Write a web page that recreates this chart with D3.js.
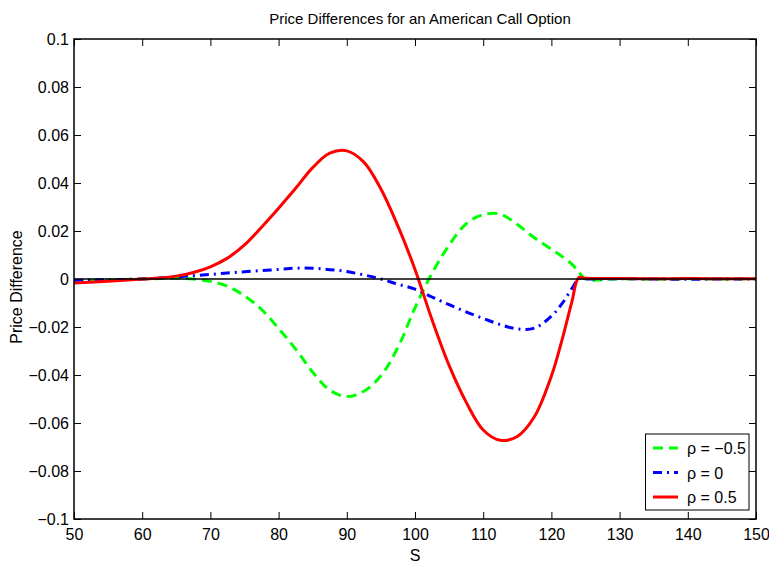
<!DOCTYPE html>
<html>
<head>
<meta charset="utf-8">
<script src="https://cdn.jsdelivr.net/npm/d3@7"></script>
<style>
  body { margin: 0; background: #fff; }
  text { font-family: "Liberation Sans Narrow", "Arial Narrow", "Liberation Sans", Arial, sans-serif; }
</style>
</head>
<body>
<div id="chart"></div>
<script>
// stock price grid
const sValues = [50, 55, 60, 62.5, 65, 67.5, 70, 72.5, 75, 77.5, 80, 82.5, 85, 87.5, 90, 92.5, 95, 97.5,
  100, 102.5, 105, 107.5, 110, 112.5, 115, 117.5, 120, 121.5, 123, 124, 125, 130, 135, 140, 145, 150];

// rho = -0.5
const rhoNeg = [-0.0008, -0.0004, 0, 0.0002, 0.0003, 0, -0.001, -0.003, -0.007, -0.0127, -0.0206, -0.0292,
  -0.0388, -0.0463, -0.049, -0.0468, -0.0403, -0.0285, -0.012, 0.0024, 0.0141, 0.023, 0.0268, 0.027,
  0.0227, 0.0172, 0.0124, 0.0095, 0.0062, 0.003, 0, 0.0001, -0.0001, 0.0001, 0, 0.0001];

// rho = 0
const rhoZero = [-0.0005, -0.0003, 0, 0.0004, 0.0009, 0.0014, 0.0019, 0.0025, 0.003, 0.0035, 0.004, 0.0045,
  0.0045, 0.0039, 0.0031, 0.0017, 0, -0.0022, -0.0042, -0.0075, -0.0107, -0.0137, -0.0164, -0.019,
  -0.0208, -0.0205, -0.0155, -0.0105, -0.004, 0, 0, 0.0001, 0, -0.0001, 0, 0];

// rho = 0.5
const rhoPos = [-0.0017, -0.0009, 0, 0.0004, 0.0012, 0.0027, 0.0051, 0.0087, 0.0142, 0.0216, 0.0295, 0.0378,
  0.0464, 0.0524, 0.0534, 0.0487, 0.0375, 0.022, 0.004, -0.017, -0.036, -0.0513, -0.0629, -0.0672,
  -0.0656, -0.0574, -0.0404, -0.026, -0.0095, 0.0005, 0.0003, 0.0002, 0.0001, 0.0002, 0.0001, 0.0001];

const xTicks = [50, 60, 70, 80, 90, 100, 110, 120, 130, 140, 150];
const yTicks = [-0.1, -0.08, -0.06, -0.04, -0.02, 0, 0.02, 0.04, 0.06, 0.08, 0.1];
const legendLabels = ["ρ = −0.5", "ρ = 0", "ρ = 0.5"];

const width = 769, height = 563;
const margin = { top: 39, right: 13, bottom: 44, left: 74 };

const svg = d3.select("#chart").append("svg")
  .attr("width", width)
  .attr("height", height);

const x = d3.scaleLinear().domain([50, 150]).range([margin.left, width - margin.right]);
const y = d3.scaleLinear().domain([-0.1, 0.1]).range([height - margin.bottom, margin.top]);

const fmt = d => d === 0 ? "0" : d3.format("~g")(d).replace("-", "−");

// axes with inward ticks
const axisFont = g => g.selectAll("text").style("font-size", "16px").attr("fill", "#000").attr("font-family", null);
svg.append("g")
  .attr("transform", `translate(0,${y(-0.1)})`)
  .call(d3.axisBottom(x).tickValues(xTicks).tickSizeInner(-7).tickSizeOuter(0).tickPadding(10))
  .call(g => g.select(".domain").remove())
  .call(axisFont);
svg.append("g")
  .attr("transform", `translate(0,${y(0.1)})`)
  .call(d3.axisTop(x).tickValues(xTicks).tickSizeInner(-7).tickSizeOuter(0).tickFormat(""))
  .call(g => g.select(".domain").remove());
svg.append("g")
  .attr("transform", `translate(${x(50)},0)`)
  .call(d3.axisLeft(y).tickValues(yTicks).tickSizeInner(-7).tickSizeOuter(0).tickPadding(5).tickFormat(fmt))
  .call(g => g.select(".domain").remove())
  .call(axisFont);
svg.append("g")
  .attr("transform", `translate(${x(150)},0)`)
  .call(d3.axisRight(y).tickValues(yTicks).tickSizeInner(-7).tickSizeOuter(0).tickFormat(""))
  .call(g => g.select(".domain").remove());

svg.selectAll(".tick line").attr("stroke", "#000").attr("stroke-width", 1);

const series = [
  { values: rhoNeg, color: "#00ff00", dash: "10,6" },
  { values: rhoZero, color: "#0000ff", dash: "9,5,2,5" },
  { values: rhoPos, color: "#ff0000", dash: null }
];

const line = d3.line()
  .x((d, i) => x(sValues[i]))
  .y(d => y(d))
  .curve(d3.curveCatmullRom.alpha(0.5));

svg.selectAll("path.series")
  .data(series)
  .enter()
  .append("path")
  .attr("class", "series")
  .attr("d", d => line(d.values))
  .attr("fill", "none")
  .attr("stroke", d => d.color)
  .attr("stroke-width", 3)
  .attr("stroke-dasharray", d => d.dash);

// zero line
svg.append("line")
  .attr("x1", x(50)).attr("x2", x(150))
  .attr("y1", y(0)).attr("y2", y(0))
  .attr("stroke", "#000")
  .attr("stroke-width", 1.5);

// frame
svg.append("rect")
  .attr("x", x(50)).attr("y", y(0.1))
  .attr("width", x(150) - x(50)).attr("height", y(-0.1) - y(0.1))
  .attr("fill", "none")
  .attr("stroke", "#000")
  .attr("stroke-width", 1.5);

// titles
svg.append("text")
  .attr("x", 420).attr("y", 24)
  .attr("text-anchor", "middle")
  .style("font-size", "15px")
  .text("Price Differences for an American Call Option");

svg.append("text")
  .attr("x", x(100)).attr("y", 561)
  .attr("text-anchor", "middle")
  .style("font-size", "16px")
  .text("S");

svg.append("text")
  .attr("transform", `translate(22,${287}) rotate(-90)`)
  .attr("text-anchor", "middle")
  .style("font-size", "16px")
  .text("Price Difference");

// legend
const legend = svg.append("g");
legend.append("rect")
  .attr("x", 645.5).attr("y", 434)
  .attr("width", 103.5).attr("height", 76)
  .attr("fill", "#fff")
  .attr("stroke", "#000")
  .attr("stroke-width", 1);

const items = legend.selectAll("g.item")
  .data(series)
  .enter()
  .append("g")
  .attr("transform", (d, i) => `translate(0,${448 + i * 24.5})`);

items.append("line")
  .attr("x1", 653).attr("x2", 678)
  .attr("stroke", d => d.color)
  .attr("stroke-width", 3)
  .attr("stroke-dasharray", d => d.dash);

items.append("text")
  .attr("x", 687).attr("y", 6)
  .style("font-size", "16px")
  .text((d, i) => legendLabels[i]);
</script>
</body>
</html>
